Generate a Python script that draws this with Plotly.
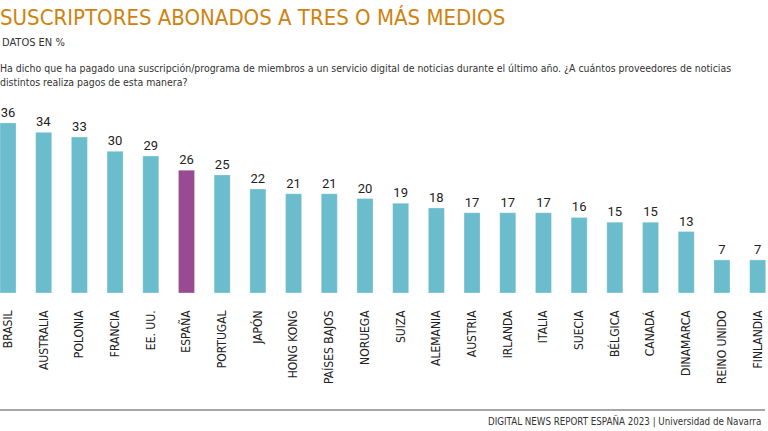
import plotly.graph_objects as go

countries = ["BRASIL", "AUSTRALIA", "POLONIA", "FRANCIA", "EE. UU.", "ESPAÑA", "PORTUGAL",
             "JAPÓN", "HONG KONG", "PAÍSES BAJOS", "NORUEGA", "SUIZA", "ALEMANIA", "AUSTRIA",
             "IRLANDA", "ITALIA", "SUECIA", "BÉLGICA", "CANADÁ", "DINAMARCA", "REINO UNIDO",
             "FINLANDIA"]
values = [36, 34, 33, 30, 29, 26, 25, 22, 21, 21, 20, 19, 18, 17, 17, 17, 16, 15, 15, 13, 7, 7]
highlight = "ESPAÑA"

TEAL = "#6bbccc"
PURPLE = "#984a93"
colors = [PURPLE if c == highlight else TEAL for c in countries]

FONT = "Liberation Sans Narrow, DejaVu Sans Condensed, Arial Narrow, Arial, sans-serif"

fig = go.Figure(go.Bar(
    x=list(range(len(countries))),
    y=values,
    marker=dict(color=colors, line=dict(color="rgba(255,255,255,0.6)", width=0.5)),
    text=[str(v) for v in values],
    textposition="outside",
    textfont=dict(family="Roboto, Arial, sans-serif", size=13, color="#222"),
    cliponaxis=False,
    width=0.45,
))

fig.update_layout(
    width=768, height=431,
    margin=dict(l=0, r=0, t=104, b=138),
    paper_bgcolor="white", plot_bgcolor="white",
    showlegend=False,
    bargap=0.55,
    font=dict(family=FONT),
)
fig.update_xaxes(
    range=[-0.224, 21.29],
    tickmode="array",
    tickvals=list(range(len(countries))),
    ticktext=countries,
    tickangle=-90,
    tickfont=dict(family=FONT, size=12, color="#222"),
    showgrid=False, zeroline=False, showline=False, ticks="",
    ticklabelstandoff=14,
)
fig.update_yaxes(range=[0, 40], visible=False)


def place(text, px, py, size, color, xanchor="left", family=FONT):
    plot_top, plot_h = 104, 431 - 104 - 138
    yp = (plot_top + plot_h - py) / plot_h
    xp = px / 768
    fig.add_annotation(text=text, xref="paper", yref="paper", x=xp, y=yp,
                       xanchor=xanchor, yanchor="top", showarrow=False, align="left",
                       font=dict(family=family, size=size, color=color))


place("SUSCRIPTORES ABONADOS A TRES O MÁS MEDIOS", -2, 3, 22, "#d0820f")
place("DATOS EN %", 0, 34, 11, "#333")
place("Ha dicho que ha pagado una suscripción/programa de miembros a un servicio digital de noticias durante el último año. ¿A cuántos proveedores de noticias<br>distintos realiza pagos de esta manera?",
      -2, 60, 10.45, "#333")
place("DIGITAL NEWS REPORT ESPAÑA 2023 | Universidad de Navarra", 763, 413, 9.7, "#333", xanchor="right")

fig.add_shape(type="line", xref="paper", yref="paper",
              x0=0, x1=765 / 768,
              y0=(293 - 410) / 189, y1=(293 - 410) / 189,
              line=dict(color="#888", width=1.5))

fig.write_html("out.html")
